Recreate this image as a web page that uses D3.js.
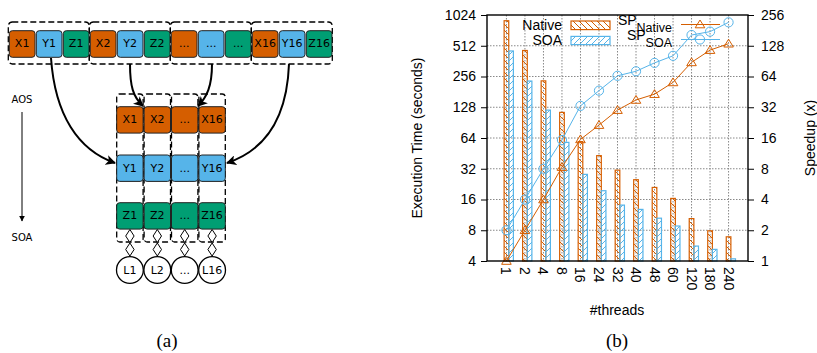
<!DOCTYPE html>
<html>
<head>
<meta charset="utf-8">
<script src="https://cdn.jsdelivr.net/npm/d3@7"></script>
<style>
  body { margin: 0; background: #fff; }
  svg { display: block; }
</style>
</head>
<body>
<svg id="fig" width="817" height="353"></svg>
<script>
// ---- (b) data ----
const threads = ['1', '2', '4', '8', '16', '24', '32', '40', '48', '60', '120', '180', '240'];
const nativeTime = [900, 460, 232, 114, 59, 43, 31, 25, 21, 16.4, 10.4, 7.9, 6.9];
const soaTime = [455, 231, 120, 58, 28.2, 19.5, 14.1, 12.8, 10.5, 8.8, 5.6, 5.2, 4.2];
const spNative = [1, 2, 4, 8.3, 15.5, 21.4, 30, 37.7, 43, 56, 88, 116, 134];
const spSoa = [2, 4, 8, 15.3, 33, 46.5, 65, 72, 87, 102, 163, 176, 217];
const timeTicks = [4, 8, 16, 32, 64, 128, 256, 512, 1024];
const speedupTicks = [1, 2, 4, 8, 16, 32, 64, 128, 256];

// ---- (a) labels ----
const aosCells = ['X1', 'Y1', 'Z1', 'X2', 'Y2', 'Z2', '...', '...', '...', 'X16', 'Y16', 'Z16'];
const soaRows = ['X', 'Y', 'Z'];
const soaCols = ['1', '2', '...', '16'];
const laneLabels = ['L1', 'L2', '...', 'L16'];

const ORANGE = '#d55e00';
const BLUE = '#56b4e9';
const GREEN = '#009e73';
const rowColors = [ORANGE, BLUE, GREEN];

const svg = d3.select('#fig');
svg.append('rect').attr('width', 817).attr('height', 353).attr('fill', '#fff');

const defs = svg.append('defs');

// hatch patterns for the bars
function hatch(id, color, back) {
  const p = defs.append('pattern')
    .attr('id', id)
    .attr('patternUnits', 'userSpaceOnUse')
    .attr('width', 6).attr('height', 6);
  const d = back ? 'M-1,-1 L7,7 M-1,5 L1,7 M5,-1 L7,1' : 'M-1,7 L7,-1 M-1,1 L1,-1 M5,7 L7,5';
  p.append('path').attr('d', d).attr('stroke', color).attr('stroke-width', 1);
}
hatch('hNative', ORANGE, true);
hatch('hSoa', BLUE, false);

defs.append('marker')
  .attr('id', 'arrow')
  .attr('viewBox', '0 0 10 10')
  .attr('refX', 9).attr('refY', 5)
  .attr('markerWidth', 10).attr('markerHeight', 10)
  .attr('markerUnits', 'userSpaceOnUse')
  .attr('orient', 'auto')
  .append('path').attr('d', 'M0,0 L10,5 L0,10 L2.5,5 Z').attr('fill', '#000');

defs.append('marker')
  .attr('id', 'arrowSmall')
  .attr('viewBox', '0 0 10 10')
  .attr('refX', 9).attr('refY', 5)
  .attr('markerWidth', 6).attr('markerHeight', 6)
  .attr('markerUnits', 'userSpaceOnUse')
  .attr('orient', 'auto')
  .append('path').attr('d', 'M0,0 L10,5 L0,10 Z').attr('fill', '#000');

// ================= (a) diagram =================
const dia = svg.append('g').style('font-family', '"DejaVu Sans", sans-serif');

const cellW = 25.7, cellH = 26.6, pitch = 27;
const topX = 9.3, topY = 30.7;

// dashed group boxes for the AOS row
d3.range(4).forEach((g) => {
  dia.append('rect')
    .attr('x', topX - 1 + g * pitch * 3)
    .attr('y', 22)
    .attr('width', pitch * 3)
    .attr('height', 42)
    .attr('rx', 4)
    .attr('fill', 'none')
    .attr('stroke', '#000')
    .attr('stroke-width', 1.3)
    .attr('stroke-dasharray', '6,3');
});

const topCells = dia.selectAll('.aos')
  .data(aosCells)
  .enter()
  .append('g')
  .attr('class', 'aos')
  .attr('transform', (d, i) => `translate(${topX + i * pitch},${topY})`);
topCells.append('rect')
  .attr('width', cellW).attr('height', cellH).attr('rx', 3)
  .attr('fill', (d, i) => rowColors[i % 3])
  .attr('stroke', '#222').attr('stroke-width', 1);
topCells.append('text')
  .attr('x', cellW / 2).attr('y', cellH / 2)
  .attr('text-anchor', 'middle').attr('dominant-baseline', 'central')
  .style('font-size', '11px')
  .text((d) => d);

// SOA block
const colX = [116.7, 144.1, 171.5, 198.9];
const rowY = [106.7, 155, 202.7];
const colW = 26.4;

colX.forEach((cx) => {
  dia.append('rect')
    .attr('x', cx).attr('y', 94)
    .attr('width', colW).attr('height', 148)
    .attr('rx', 3)
    .attr('fill', 'none')
    .attr('stroke', '#000')
    .attr('stroke-width', 1.3)
    .attr('stroke-dasharray', '6,3');
});

soaRows.forEach((r, ri) => {
  soaCols.forEach((c, ci) => {
    const g = dia.append('g').attr('transform', `translate(${colX[ci]},${rowY[ri]})`);
    g.append('rect')
      .attr('width', colW).attr('height', 26.4).attr('rx', 3)
      .attr('fill', rowColors[ri])
      .attr('stroke', '#222').attr('stroke-width', 1);
    g.append('text')
      .attr('x', colW / 2).attr('y', 13.2)
      .attr('text-anchor', 'middle').attr('dominant-baseline', 'central')
      .style('font-size', '11px')
      .text(c === '...' ? '...' : r + c);
  });
});

// diamond chains and lane circles
colX.forEach((cx, i) => {
  const mx = cx + colW / 2;
  [229.5, 243].forEach((dy) => {
    dia.append('path')
      .attr('d', `M${mx},${dy} L${mx + 4.2},${dy + 6.5} L${mx},${dy + 13} L${mx - 4.2},${dy + 6.5} Z`)
      .attr('fill', '#fff').attr('stroke', '#000').attr('stroke-width', 1);
  });
  dia.append('circle')
    .attr('cx', mx).attr('cy', 270).attr('r', 13.4)
    .attr('fill', '#fff').attr('stroke', '#000').attr('stroke-width', 1.3);
  dia.append('text')
    .attr('x', mx).attr('y', 270)
    .attr('text-anchor', 'middle').attr('dominant-baseline', 'central')
    .style('font-size', '11px')
    .text(laneLabels[i]);
});

// curved arrows
const arrows = [
  'M51,58 C55,115 78,150 115,163',
  'M130,64 C130,86 133,97 143,106',
  'M212,64 C212,86 207,97 198,106',
  'M289,64 C287,118 266,150 227,163',
];
arrows.forEach((d) => {
  dia.append('path')
    .attr('d', d)
    .attr('fill', 'none')
    .attr('stroke', '#000')
    .attr('stroke-width', 2)
    .attr('marker-end', 'url(#arrow)');
});

// AOS -> SOA side label
dia.append('text').attr('x', 22).attr('y', 103)
  .attr('text-anchor', 'middle').style('font-size', '10px').text('AOS');
dia.append('line')
  .attr('x1', 22).attr('y1', 112).attr('x2', 22).attr('y2', 221)
  .attr('stroke', '#000').attr('stroke-width', 1)
  .attr('marker-end', 'url(#arrowSmall)');
dia.append('text').attr('x', 22).attr('y', 241)
  .attr('text-anchor', 'middle').style('font-size', '10px').text('SOA');

// ================= (b) chart =================
const plot = { left: 487, right: 748, top: 15, bottom: 261 };
const chart = svg.append('g').style('font-family', '"Liberation Sans", Arial, sans-serif');

const x = d3.scaleLinear().domain([-1.05, 13.05]).range([plot.left, plot.right]);
const yTime = d3.scaleLog().base(2).domain([4, 1024]).range([plot.bottom, plot.top]);
const ySpeed = d3.scaleLog().base(2).domain([1, 256]).range([plot.bottom, plot.top]);

// grid
chart.append('g')
  .selectAll('line')
  .data(timeTicks.slice(1, -1))
  .enter()
  .append('line')
  .attr('x1', plot.left).attr('x2', plot.right)
  .attr('y1', (d) => yTime(d)).attr('y2', (d) => yTime(d))
  .attr('stroke', '#888').attr('stroke-width', 1).attr('stroke-dasharray', '1.5,1.5');
chart.append('g')
  .selectAll('line')
  .data(threads)
  .enter()
  .append('line')
  .attr('x1', (d, i) => x(i)).attr('x2', (d, i) => x(i))
  .attr('y1', plot.top).attr('y2', plot.bottom)
  .attr('stroke', '#888').attr('stroke-width', 1).attr('stroke-dasharray', '1.5,1.5');

// bars
const barW = x(0.25) - x(0);
const bars = [
  { vals: nativeTime, off: -0.125, fill: 'url(#hNative)', stroke: ORANGE },
  { vals: soaTime, off: 0.125, fill: 'url(#hSoa)', stroke: BLUE },
];
bars.forEach((s) => {
  chart.append('g')
    .selectAll('rect')
    .data(s.vals)
    .enter()
    .append('rect')
    .attr('x', (d, i) => x(i + s.off))
    .attr('y', (d) => yTime(d))
    .attr('width', barW)
    .attr('height', (d) => plot.bottom - yTime(d))
    .attr('fill', s.fill)
    .attr('stroke', s.stroke)
    .attr('stroke-width', 1.2);
});

// speedup lines
const triangle = (cx, cy) => `M${cx},${cy - 4.5} L${cx + 4.8},${cy + 3.3} L${cx - 4.8},${cy + 3.3} Z`;

const lineGen = d3.line()
  .x((d, i) => x(i))
  .y((d) => ySpeed(d));

chart.append('path')
  .datum(spNative)
  .attr('d', lineGen)
  .attr('fill', 'none').attr('stroke', ORANGE).attr('stroke-width', 1);
chart.append('g')
  .selectAll('path')
  .data(spNative)
  .enter()
  .append('path')
  .attr('d', (d, i) => triangle(x(i), ySpeed(d)))
  .attr('fill', 'none').attr('stroke', ORANGE).attr('stroke-width', 1);

chart.append('path')
  .datum(spSoa)
  .attr('d', lineGen)
  .attr('fill', 'none').attr('stroke', BLUE).attr('stroke-width', 1);
chart.append('g')
  .selectAll('circle')
  .data(spSoa)
  .enter()
  .append('circle')
  .attr('cx', (d, i) => x(i))
  .attr('cy', (d) => ySpeed(d))
  .attr('r', 4.6)
  .attr('fill', 'none').attr('stroke', BLUE).attr('stroke-width', 1);

// axes
const leftAxis = d3.axisLeft(yTime).tickValues(timeTicks).tickFormat(d3.format('d')).tickSize(6).tickPadding(5);
const rightAxis = d3.axisRight(ySpeed).tickValues(speedupTicks).tickFormat(d3.format('d')).tickSize(6).tickPadding(7);

const gl = chart.append('g').attr('transform', `translate(${plot.left},0)`).call(leftAxis);
const gr = chart.append('g').attr('transform', `translate(${plot.right},0)`).call(rightAxis);
[gl, gr].forEach((g) => {
  g.select('.domain').remove();
  g.selectAll('text').style('font-size', '14px').style('font-family', '"Liberation Sans", Arial, sans-serif').attr('fill', '#000');
  g.selectAll('line').attr('stroke', '#000');
});

// x tick labels, rotated
chart.append('g')
  .selectAll('text')
  .data(threads)
  .enter()
  .append('text')
  .attr('transform', (d, i) => `translate(${x(i)},267) rotate(90)`)
  .attr('dominant-baseline', 'central')
  .style('font-size', '14px')
  .text((d) => d);

// border
chart.append('rect')
  .attr('x', plot.left).attr('y', plot.top)
  .attr('width', plot.right - plot.left).attr('height', plot.bottom - plot.top)
  .attr('fill', 'none').attr('stroke', '#000').attr('stroke-width', 1.4);

// axis titles
chart.append('text')
  .attr('transform', 'translate(417,138) rotate(-90)')
  .attr('text-anchor', 'middle').attr('dominant-baseline', 'central')
  .style('font-size', '14px')
  .text('Execution Time (seconds)');
chart.append('text')
  .attr('transform', 'translate(810,138) rotate(-90)')
  .attr('text-anchor', 'middle').attr('dominant-baseline', 'central')
  .style('font-size', '14px')
  .text('Speedup (x)');
chart.append('text')
  .attr('x', 617).attr('y', 315)
  .attr('text-anchor', 'middle')
  .style('font-size', '14px')
  .text('#threads');

// legend
const legend = chart.append('g').style('font-size', '14px');
legend.append('text').attr('x', 562).attr('y', 30).attr('text-anchor', 'end').text('Native');
legend.append('rect').attr('x', 571).attr('y', 21).attr('width', 39).attr('height', 8.6)
  .attr('fill', 'url(#hNative)').attr('stroke', ORANGE).attr('stroke-width', 1.2);
legend.append('text').attr('x', 562).attr('y', 45).attr('text-anchor', 'end').text('SOA');
legend.append('rect').attr('x', 571).attr('y', 36.4).attr('width', 39).attr('height', 8.2)
  .attr('fill', 'url(#hSoa)').attr('stroke', BLUE).attr('stroke-width', 1.2);

const sp1 = legend.append('text').attr('x', 672).attr('y', 25).attr('text-anchor', 'end');
sp1.append('tspan').text('SP');
sp1.append('tspan').attr('dy', 7).style('font-size', '12.5px').text('Native');
const sp2 = legend.append('text').attr('x', 672).attr('y', 40).attr('text-anchor', 'end');
sp2.append('tspan').text('SP');
sp2.append('tspan').attr('dy', 7).style('font-size', '12.5px').text('SOA');

legend.append('line').attr('x1', 681).attr('x2', 720).attr('y1', 24.5).attr('y2', 24.5)
  .attr('stroke', ORANGE).attr('stroke-width', 1);
legend.append('path').attr('d', triangle(700, 24.5))
  .attr('fill', 'none').attr('stroke', ORANGE).attr('stroke-width', 1);
legend.append('line').attr('x1', 681).attr('x2', 720).attr('y1', 39.5).attr('y2', 39.5)
  .attr('stroke', BLUE).attr('stroke-width', 1);
legend.append('circle').attr('cx', 700).attr('cy', 39.5).attr('r', 4.6)
  .attr('fill', 'none').attr('stroke', BLUE).attr('stroke-width', 1);

// captions
svg.append('text').attr('x', 167).attr('y', 347).attr('text-anchor', 'middle')
  .style('font-family', '"Liberation Serif", "DejaVu Serif", serif').style('font-size', '19px').text('(a)');
svg.append('text').attr('x', 617).attr('y', 347).attr('text-anchor', 'middle')
  .style('font-family', '"Liberation Serif", "DejaVu Serif", serif').style('font-size', '19px').text('(b)');
</script>
</body>
</html>
